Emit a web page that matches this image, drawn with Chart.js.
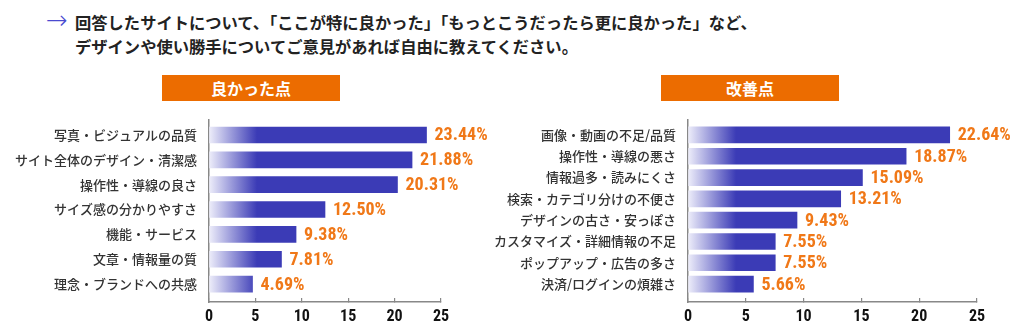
<!DOCTYPE html>
<html lang="ja">
<head>
<meta charset="utf-8">
<script src="https://cdn.jsdelivr.net/npm/chart.js@4"></script>
<style>
  body { margin: 0; background: #fff; }
  #wrap { position: relative; width: 1024px; height: 330px; overflow: hidden; font-family: "Noto Sans CJK JP", sans-serif; }
  .title { position: absolute; left: 75px; top: 10px; font-size: 16.3px; font-weight: 700; line-height: 24px; color: #222; white-space: nowrap; }
  .arrow { position: absolute; left: 46px; top: 5px; font-size: 26px; color: #4a4ad0; font-family: "DejaVu Sans", sans-serif; font-weight: 300; }
  .head { position: absolute; top: 75px; width: 178px; height: 26px; background: #ec6c00; color: #fff; font-size: 16px; font-weight: 700; line-height: 26px; text-align: center; }
  .box { position: absolute; top: 100px; height: 230px; }
</style>
</head>
<body>
<div id="wrap">
  <div class="arrow">→</div>
  <div class="title">回答したサイトについて、「ここが特に良かった」「もっとこうだったら更に良かった」など、<br>デザインや使い勝手についてご意見があれば自由に教えてください。</div>
  <div class="head" style="left:162px">良かった点</div>
  <div class="head" style="left:661px">改善点</div>
  <div class="box" style="left:0;width:500px"><canvas id="goodChart"></canvas></div>
  <div class="box" style="left:480px;width:544px"><canvas id="badChart"></canvas></div>
</div>
<script>
const goodLabels = ['写真・ビジュアルの品質', 'サイト全体のデザイン・清潔感', '操作性・導線の良さ', 'サイズ感の分かりやすさ', '機能・サービス', '文章・情報量の質', '理念・ブランドへの共感'];
const goodValues = [23.44, 21.88, 20.31, 12.50, 9.38, 7.81, 4.69];

const badLabels = ['画像・動画の不足/品質', '操作性・導線の悪さ', '情報過多・読みにくさ', '検索・カテゴリ分けの不便さ', 'デザインの古さ・安っぽさ', 'カスタマイズ・詳細情報の不足', 'ポップアップ・広告の多さ', '決済/ログインの煩雑さ'];
const badValues = [22.64, 18.87, 15.09, 13.21, 9.43, 7.55, 7.55, 5.66];

const xTicks = [0, 5, 10, 15, 20, 25];

const narrow = "'Roboto Condensed', 'Open Sans', sans-serif";
const barBlue = '#3b3bb6';

function barFill(context) {
    const chart = context.chart;
    const area = chart.chartArea;
    if (!area) return barBlue;
    const g = chart.ctx.createLinearGradient(area.left, 0, area.left + 48, 0);
    g.addColorStop(0, '#eeeefa');
    g.addColorStop(1, barBlue);
    return g;
}

const valueLabels = {
    id: 'valueLabels',
    afterDatasetsDraw(chart) {
        const ctx = chart.ctx;
        const meta = chart.getDatasetMeta(0);
        const data = chart.data.datasets[0].data;
        ctx.save();
        ctx.fillStyle = '#f07818';
        ctx.font = 'bold 18px ' + narrow;
        ctx.textBaseline = 'middle';
        meta.data.forEach((bar, i) => {
            ctx.fillText(data[i].x.toFixed(2) + '%', bar.x + 8, bar.y + 1);
        });
        ctx.restore();
    }
};

// y is a linear index scale so the empty space above the first bar / below the last can be set
function createBarChart(el, labels, values, yWidth, padRight, yMin, yMax) {
    new Chart(el, {
        type: 'bar',
        data: {
            datasets: [{
                data: values.map((v, i) => ({ x: v, y: i })),
                backgroundColor: barFill,
                borderWidth: 0,
                barThickness: 16
            }]
        },
        plugins: [valueLabels],
        options: {
            indexAxis: 'y',
            responsive: true,
            maintainAspectRatio: false,
            animation: false,
            layout: { padding: { top: 9, right: padRight, bottom: 0, left: 0 } },
            scales: {
                x: {
                    type: 'linear',
                    min: 0,
                    max: 25,
                    afterBuildTicks: (scale) => { scale.ticks = xTicks.map(v => ({ value: v })); },
                    afterFit: (scale) => { scale.height = 28; },
                    grid: { drawOnChartArea: false, drawTicks: true, tickLength: -4, color: '#888', lineWidth: 1.2 },
                    border: { color: '#888', width: 1.5 },
                    ticks: { color: '#111', padding: 9, font: { family: narrow, size: 16, weight: 'bold' } }
                },
                y: {
                    type: 'linear',
                    reverse: true,
                    offset: false,
                    min: yMin,
                    max: yMax,
                    afterBuildTicks: (scale) => { scale.ticks = labels.map((_, i) => ({ value: i })); },
                    afterFit: (scale) => { scale.width = yWidth; },
                    grid: { display: false, drawTicks: false, offset: false },
                    border: { color: '#888', width: 1.5 },
                    ticks: {
                        autoSkip: false,
                        color: '#333',
                        padding: 12,
                        font: { family: "'Noto Sans CJK JP', sans-serif", size: 13, weight: '500' },
                        callback: (v) => labels[v]
                    }
                }
            },
            plugins: {
                legend: { display: false },
                tooltip: { enabled: false }
            }
        }
    });
}

createBarChart(document.getElementById('goodChart'), goodLabels, goodValues, 209, 59, -0.61, 6.72);
createBarChart(document.getElementById('badChart'), badLabels, badValues, 208, 47, -0.71, 7.84);
</script>
</body>
</html>
